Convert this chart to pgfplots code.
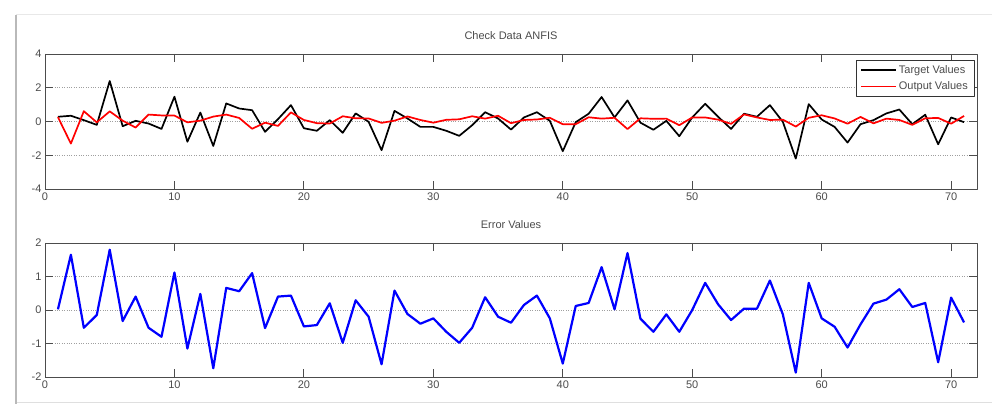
\documentclass[border=0pt]{standalone}
\usepackage{fontspec}
\setmainfont{Liberation Sans}
\usepackage{pgfplots}
\pgfplotsset{compat=1.18}
\usepackage{pgfplotstable}

\pgfplotstableread{
x target output error
1 0.28 0.26 0.02
2 0.34 -1.31 1.65
3 0.08 0.61 -0.53
4 -0.20 -0.05 -0.15
5 2.40 0.60 1.80
6 -0.28 0.05 -0.33
7 0.04 -0.36 0.40
8 -0.12 0.41 -0.53
9 -0.44 0.36 -0.80
10 1.47 0.35 1.12
11 -1.20 -0.05 -1.15
12 0.53 0.05 0.48
13 -1.45 0.29 -1.74
14 1.07 0.41 0.66
15 0.77 0.21 0.56
16 0.67 -0.43 1.10
17 -0.61 -0.07 -0.54
18 0.14 -0.26 0.40
19 0.97 0.54 0.43
20 -0.40 0.09 -0.49
21 -0.55 -0.10 -0.45
22 0.08 -0.12 0.20
23 -0.67 0.31 -0.98
24 0.48 0.19 0.29
25 -0.02 0.18 -0.20
26 -1.70 -0.08 -1.62
27 0.63 0.05 0.58
28 0.18 0.30 -0.12
29 -0.32 0.09 -0.41
30 -0.32 -0.07 -0.25
31 -0.55 0.10 -0.65
32 -0.85 0.13 -0.98
33 -0.22 0.31 -0.53
34 0.55 0.17 0.38
35 0.18 0.34 -0.20
36 -0.48 -0.10 -0.38
37 0.24 0.09 0.15
38 0.55 0.12 0.43
39 0.04 0.22 -0.25
40 -1.76 -0.16 -1.60
41 -0.04 -0.16 0.12
42 0.46 0.25 0.21
43 1.45 0.17 1.28
44 0.24 0.22 0.02
45 1.25 -0.45 1.70
46 -0.07 0.19 -0.26
47 -0.49 0.16 -0.65
48 0.04 0.17 -0.13
49 -0.87 -0.22 -0.65
50 0.24 0.24 0.00
51 1.05 0.24 0.81
52 0.28 0.11 0.17
53 -0.44 -0.14 -0.30
54 0.46 0.42 0.04
55 0.28 0.24 0.04
56 0.97 0.09 0.88
57 -0.02 0.11 -0.13
58 -2.20 -0.30 -1.87
59 1.03 0.22 0.81
60 0.12 0.37 -0.25
61 -0.32 0.18 -0.50
62 -1.25 -0.13 -1.12
63 -0.16 0.27 -0.43
64 0.08 -0.11 0.19
65 0.48 0.17 0.31
66 0.71 0.09 0.62
67 -0.16 -0.20 0.09
68 0.40 0.19 0.21
69 -1.35 0.21 -1.56
70 0.24 -0.13 0.37
71 -0.04 0.33 -0.37
}\data

\pgfplotsset{
  matlab/.style={
    scale only axis,
    width=932pt,
    xmin=0, xmax=72,
    xtick={0,10,...,70},
    tick align=inside,
    major tick length=8pt,
    ymajorgrids,
    grid style={dotted, gray!75, line width=0.6pt},
    axis line style={black!70, line width=0.9pt},
    tick style={black!70, line width=0.9pt},
    tick label style={text=black!70, font=\fontsize{11pt}{13pt}\selectfont},
    /pgf/number format/assume math mode=true,
    title style={text=black!70, font=\fontsize{11pt}{13pt}\selectfont, at={(0.5,1)}, anchor=base, inner sep=0pt},
  }
}

\begin{document}
\begin{tikzpicture}[line join=round]
\useasboundingbox (0,0) rectangle (992pt,406pt);
\fill[white] (0,0) rectangle (992pt,406pt);
\draw[gray!18, line width=1pt] (16pt,391pt) -- (992pt,391pt);
\draw[gray!25, line width=1pt] (16pt,3pt) -- (992pt,3pt);
\draw[gray!55, line width=2pt] (16pt,2pt) -- (16pt,391pt);

\begin{axis}[matlab,
  at={(45pt,217pt)}, anchor=south west,
  height=135pt,
  ymin=-4, ymax=4, ytick={-4,-2,0,2,4},
  title={Check Data ANFIS},
  title style={yshift=8.5pt},
  legend style={at={(1,1)}, anchor=north east, xshift=-3pt, yshift=-6pt,
    draw=black!80, text=black!70,
    font=\fontsize{11pt}{13pt}\selectfont, row sep=3pt, inner xsep=4pt, inner ysep=3pt},
  legend cell align=left,
]
\addplot[black, line width=1.7pt,
  legend image code/.code={\draw[black, line width=1.7pt] (0pt,0pt) -- (35pt,0pt);}]
  table[x=x, y=target]{\data};
\addlegendentry{Target Values}
\addplot[red, line width=1.7pt,
  legend image code/.code={\draw[red, line width=1.7pt] (0pt,0pt) -- (35pt,0pt);}]
  table[x=x, y=output]{\data};
\addlegendentry{Output Values}
\end{axis}

\begin{axis}[matlab,
  at={(45pt,29pt)}, anchor=south west,
  height=134pt,
  ymin=-2, ymax=2, ytick={-2,-1,0,1,2},
  title={Error Values},
  title style={yshift=8pt},
]
\addplot[blue, line width=2.2pt] table[x=x, y=error]{\data};
\end{axis}
\end{tikzpicture}
\end{document}
